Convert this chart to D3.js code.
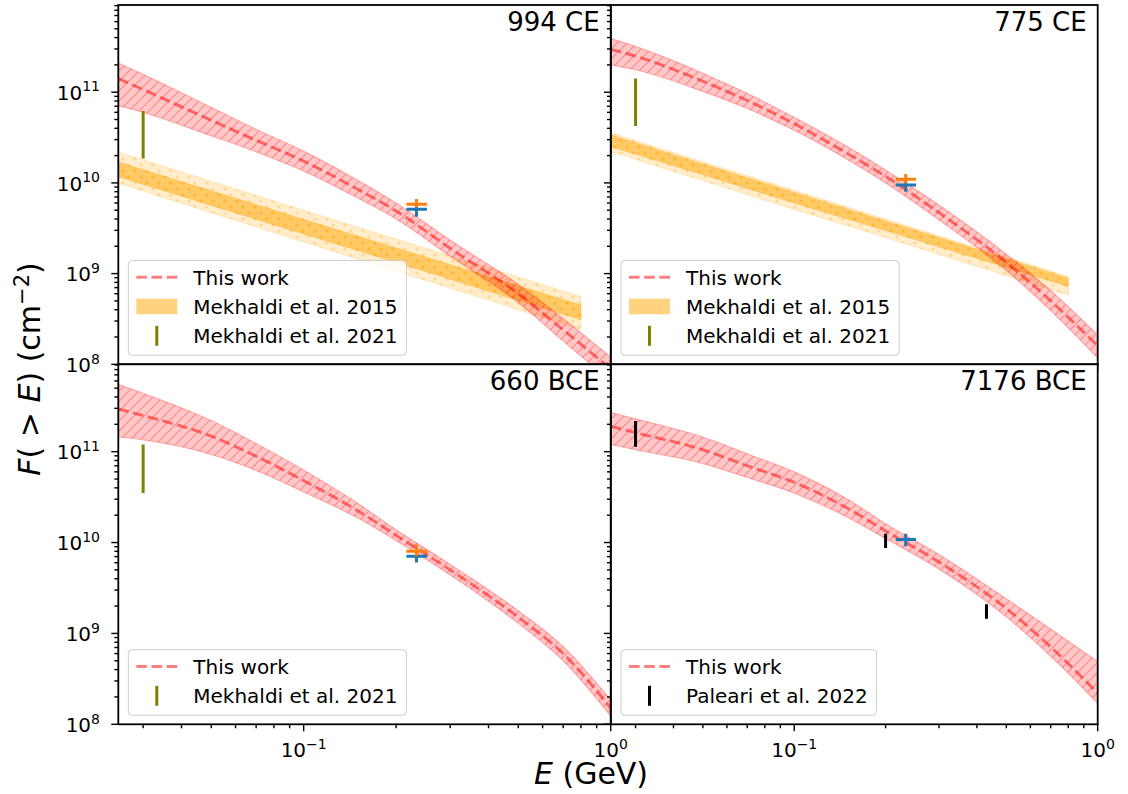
<!DOCTYPE html>
<html>
<head>
<meta charset="utf-8">
<script src="https://cdn.jsdelivr.net/npm/d3@7"></script>
<style>
    body { margin: 0; background: #fff; }
    text { font-family: "DejaVu Sans", sans-serif; fill: #000; }
</style>
</head>
<body>
<svg id="chart" width="1128" height="794"></svg>
<script>
// ---- data ----
const xDomain = [0.0249, 1]
const yDomain = [1e8, 9.15e11]

const energyGrid = [0.0249, 0.03, 0.05, 0.07, 0.1, 0.15, 0.2, 0.3, 0.5, 0.7, 1.0]

// "This work" band: centre, upper, lower  (cm^-2)
const ce994Mid = [1.41e11, 1.07e11, 4.9e10, 2.95e10, 1.74e10, 8.5e9, 4.9e9, 1.9e9, 6.0e8, 2.4e8, 8.9e7]
const ce994Hi  = [2.1e11, 1.58e11, 6.8e10, 3.9e10, 2.24e10, 1.07e10, 6.0e9, 2.34e9, 7.6e8, 3.2e8, 1.2e8]
const ce994Lo  = [7.1e10, 6.0e10, 3.3e10, 2.2e10, 1.35e10, 6.8e9, 4.0e9, 1.55e9, 4.8e8, 1.8e8, 6.6e7]

const ce775Mid = [2.97e11, 2.5e11, 1.32e11, 8.1e10, 4.5e10, 2.1e10, 1.18e10, 4.7e9, 1.33e9, 5.0e8, 1.6e8]
const ce775Hi  = [3.9e11, 3.2e11, 1.62e11, 9.7e10, 5.3e10, 2.5e10, 1.39e10, 5.7e9, 1.64e9, 6.5e8, 2.1e8]
const ce775Lo  = [2.0e11, 1.77e11, 1.02e11, 6.6e10, 3.8e10, 1.8e10, 1.0e10, 3.9e9, 1.08e9, 3.9e8, 1.17e8]

const bce660Mid = [2.95e11, 2.5e11, 1.48e11, 8.9e10, 4.8e10, 2.24e10, 1.2e10, 5.0e9, 1.51e9, 6.0e8, 1.51e8]
const bce660Hi  = [5.5e11, 4.4e11, 2.2e11, 1.23e11, 6.3e10, 2.7e10, 1.38e10, 5.75e9, 1.78e9, 7.2e8, 1.86e8]
const bce660Lo  = [1.45e11, 1.35e11, 9.3e10, 6.2e10, 3.6e10, 1.86e10, 1.05e10, 4.4e9, 1.29e9, 5.0e8, 1.23e8]

const bce7176Mid = [1.9e11, 1.62e11, 1.05e11, 7.0e10, 4.6e10, 2.38e10, 1.34e10, 6.1e9, 1.88e9, 7.1e8, 2.2e8]
const bce7176Hi  = [2.7e11, 2.3e11, 1.45e11, 9.5e10, 6.0e10, 3.0e10, 1.61e10, 7.4e9, 2.4e9, 1.12e9, 4.9e8]
const bce7176Lo  = [1.2e11, 1.05e11, 7.4e10, 5.2e10, 3.5e10, 1.89e10, 1.11e10, 5.1e9, 1.52e9, 5.6e8, 1.7e8]

// Mekhaldi et al. 2015 bands (outer / inner)
const mekEnergy = [0.0249, 0.05, 0.1, 0.2, 0.4, 0.8]
const ce994MekOuterHi = [2.19e10, 1.04e10, 5.0e9, 2.4e9, 1.16e9, 5.6e8]
const ce994MekOuterLo = [9.9e9, 4.7e9, 2.23e9, 1.06e9, 5.1e8, 2.4e8]
const ce994MekInnerHi = [1.7e10, 8.2e9, 3.96e9, 1.92e9, 9.3e8, 4.5e8]
const ce994MekInnerLo = [1.17e10, 5.65e9, 2.73e9, 1.33e9, 6.4e8, 3.1e8]

const ce775MekOuterHi = [3.57e10, 1.71e10, 8.3e9, 4.0e9, 1.93e9, 9.3e8]
const ce775MekOuterLo = [2.2e10, 1.06e10, 5.1e9, 2.5e9, 1.2e9, 5.8e8]
const ce775MekInnerHi = [3.37e10, 1.62e10, 7.85e9, 3.8e9, 1.85e9, 8.9e8]
const ce775MekInnerLo = [2.5e10, 1.23e10, 6.0e9, 2.98e9, 1.47e9, 7.2e8]

// point measurements at 0.233 GeV: [value, low, high]
const markerEnergy = [0.216, 0.233, 0.252]
const ce994Blue = [5.12e9, 4.24e9, 5.47e9]
const ce994Orange = [5.8e9, 5.38e9, 6.65e9]
const ce775Blue = [9.5e9, 8.0e9, 1.03e10]
const ce775Orange = [1.1e10, 9.9e9, 1.25e10]
const bce660Blue = [7.05e9, 6.05e9, 7.67e9]
const bce660Orange = [8.0e9, 7.05e9, 9.5e9]
const bce7176Blue = [1.08e10, 9.1e9, 1.25e10]

// vertical ranges: [energy, low, high]
const mek2021_994 = [[0.03, 1.86e10, 6.2e10]]
const mek2021_775 = [[0.03, 4.24e10, 1.42e11]]
const mek2021_660 = [[0.03, 3.5e10, 1.2e11]]
const paleari2022 = [[0.03, 1.13e11, 2.17e11], [0.2, 8.7e9, 1.25e10], [0.43, 1.45e9, 2.1e9]]

const majorY = [1e8, 1e9, 1e10, 1e11]
const majorYExp = ["8", "9", "10", "11"]
const majorX = [0.1, 1]
const majorXExp = ["\u22121", "0"]

// ---- drawing ----
const svg = d3.select("#chart")
const colRange = [[118.3, 610.7], [611, 1097.7]]
const rowRange = [[5, 364.3], [364.3, 724.3]]

const defs = svg.append("defs")
const hatch = defs.append("pattern").attr("id", "hatchRed")
    .attr("patternUnits", "userSpaceOnUse").attr("width", 10).attr("height", 10)
hatch.append("path").attr("d", "M-2,2 l4,-4 M0,10 l10,-10 M8,12 l4,-4")
    .attr("stroke", "red").attr("stroke-opacity", 0.3).attr("stroke-width", 1.2)
const dots = defs.append("pattern").attr("id", "dotsOrange")
    .attr("patternUnits", "userSpaceOnUse").attr("width", 12).attr("height", 12)
dots.append("circle").attr("cx", 3).attr("cy", 3).attr("r", 1.6).attr("fill", "orange").attr("fill-opacity", 0.3)
dots.append("circle").attr("cx", 9).attr("cy", 9).attr("r", 1.6).attr("fill", "orange").attr("fill-opacity", 0.3)

const zip3 = (es, lo, hi) => es.map((e, i) => ({ e: e, lo: lo[i], hi: hi[i] }))

const panels = [
    { title: "994 CE", row: 0, col: 0, mid: ce994Mid, hi: ce994Hi, lo: ce994Lo,
      mek: [ce994MekOuterLo, ce994MekOuterHi, ce994MekInnerLo, ce994MekInnerHi],
      blue: ce994Blue, orange: ce994Orange, sticks: mek2021_994, stickColor: "#808000",
      legend: ["This work", "Mekhaldi et al. 2015", "Mekhaldi et al. 2021"] },
    { title: "775 CE", row: 0, col: 1, mid: ce775Mid, hi: ce775Hi, lo: ce775Lo,
      mek: [ce775MekOuterLo, ce775MekOuterHi, ce775MekInnerLo, ce775MekInnerHi],
      blue: ce775Blue, orange: ce775Orange, sticks: mek2021_775, stickColor: "#808000",
      legend: ["This work", "Mekhaldi et al. 2015", "Mekhaldi et al. 2021"] },
    { title: "660 BCE", row: 1, col: 0, mid: bce660Mid, hi: bce660Hi, lo: bce660Lo,
      mek: null, blue: bce660Blue, orange: bce660Orange, sticks: mek2021_660, stickColor: "#808000",
      legend: ["This work", "Mekhaldi et al. 2021"] },
    { title: "7176 BCE", row: 1, col: 1, mid: bce7176Mid, hi: bce7176Hi, lo: bce7176Lo,
      mek: null, blue: bce7176Blue, orange: null, sticks: paleari2022, stickColor: "#000000",
      legend: ["This work", "Paleari et al. 2022"] }
]

const minorTicks = (lo, hi) => {
    const out = []
    for (let k = -3; k <= 12; k++)
        for (let m = 2; m <= 9; m++) {
            const v = m * Math.pow(10, k)
            if (v >= lo && v <= hi) out.push(v)
        }
    return out
}

const drawPanel = (p, idx) => {
    const [x0, x1] = colRange[p.col]
    const [yTop, yBot] = rowRange[p.row]
    const x = d3.scaleLog().domain(xDomain).range([x0, x1])
    const y = d3.scaleLog().domain(yDomain).range([yBot, yTop])
    const g = svg.append("g")

    g.append("rect").attr("x", x0).attr("y", yTop).attr("width", x1 - x0).attr("height", yBot - yTop)
        .attr("fill", "#fff")

    defs.append("clipPath").attr("id", "clip" + idx).append("rect")
        .attr("x", x0).attr("y", yTop).attr("width", x1 - x0).attr("height", yBot - yTop)
    const c = g.append("g").attr("clip-path", `url(#clip${idx})`)

    const straight = d3.area().x(d => x(d.e)).y0(d => y(d.lo)).y1(d => y(d.hi))
    const smooth = d3.area().curve(d3.curveMonotoneX).x(d => x(d.e)).y0(d => y(d.lo)).y1(d => y(d.hi))

    if (p.mek) {
        const outer = zip3(mekEnergy, p.mek[0], p.mek[1])
        const inner = zip3(mekEnergy, p.mek[2], p.mek[3])
        c.append("path").datum(outer).attr("d", straight)
            .attr("fill", "orange").attr("fill-opacity", 0.2)
            .attr("stroke", "orange").attr("stroke-opacity", 0.2)
        c.append("path").datum(outer).attr("d", straight).attr("fill", "url(#dotsOrange)")
        c.append("path").datum(inner).attr("d", straight)
            .attr("fill", "orange").attr("fill-opacity", 0.5)
            .attr("stroke", "orange").attr("stroke-opacity", 0.3)
        c.append("path").datum(inner).attr("d", straight).attr("fill", "url(#dotsOrange)")
    }

    const band = zip3(energyGrid, p.lo, p.hi)
    c.append("path").datum(band).attr("d", smooth)
        .attr("fill", "red").attr("fill-opacity", 0.22)
        .attr("stroke", "red").attr("stroke-opacity", 0.25).attr("stroke-width", 1.2)
    c.append("path").datum(band).attr("d", smooth).attr("fill", "url(#hatchRed)")

    const line = d3.line().curve(d3.curveMonotoneX).x((d, i) => x(energyGrid[i])).y(d => y(d))
    c.append("path").datum(p.mid).attr("d", line)
        .attr("fill", "none").attr("stroke", "red").attr("stroke-opacity", 0.5)
        .attr("stroke-width", 2.9).attr("stroke-dasharray", "10.6,4.6")

    c.selectAll(".stick").data(p.sticks).enter().append("line")
        .attr("x1", d => x(d[0])).attr("x2", d => x(d[0]))
        .attr("y1", d => y(d[1])).attr("y2", d => y(d[2]))
        .attr("stroke", p.stickColor).attr("stroke-width", 3)

    const drawMarker = (m, color) => {
        c.append("line").attr("x1", x(markerEnergy[0])).attr("x2", x(markerEnergy[2]))
            .attr("y1", y(m[0])).attr("y2", y(m[0]))
            .attr("stroke", color).attr("stroke-width", 3)
        c.append("line").attr("x1", x(markerEnergy[1])).attr("x2", x(markerEnergy[1]))
            .attr("y1", y(m[1])).attr("y2", y(m[2]))
            .attr("stroke", color).attr("stroke-width", 3)
    }
    if (p.blue) drawMarker(p.blue, "#1f77b4")
    if (p.orange) drawMarker(p.orange, "#ff7f0e")

    // frame
    g.append("rect").attr("x", x0).attr("y", yTop).attr("width", x1 - x0).attr("height", yBot - yTop)
        .attr("fill", "none").attr("stroke", "#000").attr("stroke-width", 1.8)

    // ticks
    const ta = g.append("g").attr("stroke", "#000").attr("stroke-width", 1.4)
    ta.selectAll(".ymin").data(minorTicks(yDomain[0], yDomain[1])).enter().append("line")
        .attr("x1", x0).attr("x2", x0 - 4).attr("y1", d => y(d)).attr("y2", d => y(d))
    ta.selectAll(".ymaj").data(majorY).enter().append("line")
        .attr("x1", x0).attr("x2", x0 - 7).attr("y1", d => y(d)).attr("y2", d => y(d))
    ta.selectAll(".xmin").data(minorTicks(xDomain[0], xDomain[1])).enter().append("line")
        .attr("y1", yBot).attr("y2", yBot + 4).attr("x1", d => x(d)).attr("x2", d => x(d))
    ta.selectAll(".xmaj").data(majorX).enter().append("line")
        .attr("y1", yBot).attr("y2", yBot + 7).attr("x1", d => x(d)).attr("x2", d => x(d))

    if (p.col === 0) {
        majorY.forEach((v, i) => {
            const t = g.append("text").attr("x", 100).attr("y", y(v) + 7.7)
                .attr("text-anchor", "end").style("font-size", "20px").text("10")
            t.append("tspan").attr("dy", -8.5).style("font-size", "14px").text(majorYExp[i])
        })
    }
    if (p.row === 1) {
        majorX.forEach((v, i) => {
            const t = g.append("text").attr("x", x(v)).attr("y", yBot + 33)
                .attr("text-anchor", "middle").style("font-size", "20px").text("10")
            t.append("tspan").attr("dy", -8.5).style("font-size", "14px").text(majorXExp[i])
        })
    }

    g.append("text").attr("x", x1 - 11).attr("y", yTop + 26).attr("text-anchor", "end")
        .style("font-size", "26px").text(p.title)

    // legend
    const n = p.legend.length
    const lb = yBot - 9
    const lx = x0 + 10
    const lg = g.append("g")
    const box = lg.append("rect")
    const rowY = i => lb - 19.5 - (n - 1 - i) * 29.3
    let maxW = 0
    p.legend.forEach((name, i) => {
        const t = lg.append("text").attr("x", lx + 65).attr("y", rowY(i) + 7.3)
            .style("font-size", "20px").text(name)
        maxW = Math.max(maxW, t.node().getComputedTextLength())
    })
    box.attr("x", lx).attr("y", lb - (7 + n * 29.3)).attr("width", 65 + maxW + 9)
        .attr("height", 7 + n * 29.3).attr("rx", 4)
        .attr("fill", "#fff").attr("fill-opacity", 0.8).attr("stroke", "#cccccc").attr("stroke-width", 1)
    lg.append("line").attr("x1", lx + 8).attr("x2", lx + 49).attr("y1", rowY(0)).attr("y2", rowY(0))
        .attr("stroke", "red").attr("stroke-opacity", 0.5).attr("stroke-width", 2.9)
        .attr("stroke-dasharray", "10.6,4.6")
    if (n === 3) {
        lg.append("rect").attr("x", lx + 8).attr("y", rowY(1) - 7.8).attr("width", 41).attr("height", 15.6)
            .attr("fill", "orange").attr("fill-opacity", 0.5)
    }
    lg.append("line").attr("x1", lx + 28.5).attr("x2", lx + 28.5)
        .attr("y1", rowY(n - 1) - 10).attr("y2", rowY(n - 1) + 10)
        .attr("stroke", p.stickColor).attr("stroke-width", 3)
}

panels.forEach(drawPanel)

// axis labels
const xl = svg.append("text").attr("x", 591).attr("y", 784).attr("text-anchor", "middle")
    .style("font-size", "30px")
xl.append("tspan").style("font-style", "italic").text("E")
xl.append("tspan").text(" (GeV)")

const yl = svg.append("text").attr("transform", "translate(40,369) rotate(-90)")
    .attr("text-anchor", "middle").style("font-size", "30px")
yl.append("tspan").style("font-style", "italic").text("F")
yl.append("tspan").text("( > ")
yl.append("tspan").style("font-style", "italic").text("E")
yl.append("tspan").text(") (cm")
yl.append("tspan").attr("dy", -11).style("font-size", "21px").text("\u22122")
yl.append("tspan").attr("dy", 11).text(")")
</script>
</body>
</html>
